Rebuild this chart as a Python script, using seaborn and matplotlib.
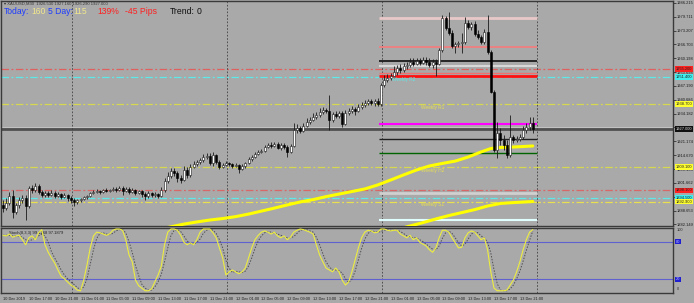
import numpy as np
import pandas as pd
import matplotlib
matplotlib.use("Agg")
import matplotlib.pyplot as plt
import matplotlib.transforms as mtransforms
import seaborn as sns

# ---------------- data ----------------
opens = [1891.3,1889.8,1892.2,1895.5,1888.0,1891.3,1893.6,1894.5,1890.8,1899.2,
 1898.3,1900.2,1897.4,1896.0,1896.9,1896.0,1896.9,1895.5,1896.4,1895.0,
 1896.0,1894.5,1893.6,1892.7,1893.6,1894.1,1895.0,1895.5,1896.9,1897.4,
 1897.8,1897.4,1898.3,1897.8,1898.3,1898.8,1898.3,1899.2,1897.8,1898.8,
 1897.4,1898.3,1896.9,1897.8,1896.4,1895.5,1896.9,1896.0,1896.4,1895.5,
 1898.3,1902.5,1904.9,1907.2,1906.3,1903.9,1903.0,1907.7,1905.4,1909.1,
 1910.5,1911.5,1912.4,1913.8,1914.3,1911.0,1914.8,1911.5,1909.1,1910.1,
 1911.0,1910.5,1909.6,1910.1,1908.2,1909.6,1911.0,1912.9,1913.8,1915.2,
 1916.2,1916.6,1918.5,1919.5,1919.0,1919.9,1918.0,1919.5,1918.5,1916.2,
 1919.0,1926.5,1927.4,1926.0,1928.4,1930.3,1931.2,1932.6,1933.6,1935.0,
 1935.9,1935.4,1931.2,1934.0,1933.1,1934.5,1929.3,1934.5,1935.4,1936.4,
 1935.4,1937.3,1938.3,1939.2,1940.1,1939.2,1940.1,1938.7,1947.7,1950.0,
 1950.9,1951.9,1953.8,1955.6,1954.7,1956.6,1957.1,1958.5,1957.5,1958.9,
 1958.0,1959.4,1958.5,1957.1,1958.5,1957.5,1964.1,1979.1,1974.4,1972.1,
 1966.0,1966.9,1967.4,1967.9,1976.8,1974.9,1976.3,1971.6,1970.2,1967.9,
 1972.6,1963.2,1944.4,1917.1,1925.1,1921.8,1919.5,1914.8,1923.2,1921.8,
 1922.3,1923.2,1926.5,1927.9,1929.8]
closes = [1889.8,1892.2,1895.5,1888.0,1891.3,1893.6,1894.5,1890.8,1899.2,1898.3,
 1900.2,1897.4,1896.0,1896.9,1896.0,1896.9,1895.5,1896.4,1895.0,1896.0,
 1894.5,1893.6,1892.7,1893.6,1894.1,1895.0,1895.5,1896.9,1897.4,1897.8,
 1897.4,1898.3,1897.8,1898.3,1898.8,1898.3,1899.2,1897.8,1898.8,1897.4,
 1898.3,1896.9,1897.8,1896.4,1895.5,1896.9,1896.0,1896.4,1895.5,1898.3,
 1902.5,1904.9,1907.2,1906.3,1903.9,1903.0,1907.7,1905.4,1909.1,1910.5,
 1911.5,1912.4,1913.8,1914.3,1911.0,1914.8,1911.5,1909.1,1910.1,1911.0,
 1910.5,1909.6,1910.1,1908.2,1909.6,1911.0,1912.9,1913.8,1915.2,1916.2,
 1916.6,1918.5,1919.5,1919.0,1919.9,1918.0,1919.5,1918.5,1916.2,1919.0,
 1926.5,1927.4,1926.0,1928.4,1930.3,1931.2,1932.6,1933.6,1935.0,1935.9,
 1935.4,1931.2,1934.0,1933.1,1934.5,1929.3,1934.5,1935.4,1936.4,1935.4,
 1937.3,1938.3,1939.2,1940.1,1939.2,1940.1,1938.7,1947.7,1950.0,1950.9,
 1951.9,1953.8,1955.6,1954.7,1956.6,1957.1,1958.5,1957.5,1958.9,1958.0,
 1959.4,1958.5,1957.1,1958.5,1957.5,1964.1,1979.1,1974.4,1972.1,1966.0,
 1966.9,1967.4,1967.9,1976.8,1974.9,1976.3,1971.6,1970.2,1967.9,1972.6,
 1963.2,1944.4,1917.1,1925.1,1921.8,1919.5,1914.8,1923.2,1921.8,1922.3,
 1923.2,1926.5,1927.9,1929.8,1927.0]
highs = [1893.6,1894.5,1897.4,1898.3,1892.2,1895.0,1896.0,1896.0,1900.2,1900.7,
 1901.6,1901.1,1898.3,1897.8,1897.8,1898.3,1897.8,1897.4,1896.9,1896.9,
 1896.4,1895.5,1894.5,1894.1,1894.5,1895.5,1896.0,1897.4,1898.3,1898.8,
 1898.3,1898.8,1899.2,1898.8,1899.7,1899.7,1900.2,1900.2,1899.7,1899.7,
 1899.2,1898.8,1898.3,1898.3,1897.4,1897.8,1897.4,1897.4,1896.9,1899.7,
 1903.9,1906.8,1908.6,1908.6,1907.2,1905.4,1909.6,1909.1,1910.5,1911.9,
 1912.4,1913.3,1915.2,1915.7,1915.7,1916.2,1915.2,1912.4,1911.0,1911.9,
 1911.5,1911.0,1911.0,1910.5,1910.5,1911.5,1913.8,1914.8,1916.2,1917.1,
 1917.6,1919.5,1920.4,1920.9,1920.9,1920.9,1920.4,1920.4,1919.5,1919.9,
 1929.8,1929.3,1928.4,1929.8,1932.1,1932.6,1934.5,1935.0,1936.8,1937.3,
 1936.8,1943.0,1935.0,1935.4,1935.4,1935.4,1935.9,1936.8,1937.8,1937.3,
 1938.7,1939.7,1940.6,1941.1,1941.1,1941.1,1941.5,1948.6,1952.4,1952.8,
 1953.3,1956.6,1957.1,1957.5,1958.0,1958.5,1960.3,1960.3,1960.3,1960.3,
 1960.8,1960.8,1960.3,1959.9,1959.9,1965.0,1980.6,1980.1,1982.0,1973.5,
 1967.9,1968.3,1972.1,1979.6,1978.2,1977.3,1977.7,1973.5,1971.2,1974.0,
 1980.6,1964.1,1945.3,1930.3,1927.4,1924.2,1921.8,1933.6,1924.2,1923.7,
 1924.6,1928.4,1929.8,1932.6,1932.6]
lows = [1888.0,1888.9,1891.3,1885.1,1887.0,1889.8,1892.2,1884.2,1889.8,1896.9,
 1897.4,1896.4,1895.0,1895.0,1895.0,1895.5,1894.5,1895.0,1894.1,1894.5,
 1893.1,1892.2,1890.8,1891.7,1892.7,1893.6,1894.1,1895.0,1896.4,1896.9,
 1896.4,1896.9,1897.4,1897.4,1897.8,1897.4,1897.8,1896.0,1897.4,1896.4,
 1896.9,1896.0,1896.4,1895.0,1893.6,1894.5,1895.0,1895.0,1894.5,1895.0,
 1897.4,1901.6,1903.9,1904.9,1902.1,1901.6,1902.5,1903.9,1904.4,1908.6,
 1909.6,1910.5,1911.5,1912.9,1910.1,1909.6,1910.5,1908.2,1908.6,1909.6,
 1909.6,1908.6,1909.1,1906.3,1907.7,1908.6,1910.5,1911.9,1913.3,1914.8,
 1915.7,1916.2,1918.0,1918.0,1918.5,1917.6,1917.1,1917.6,1913.8,1915.7,
 1918.5,1925.1,1925.1,1925.6,1927.9,1929.3,1930.7,1931.7,1932.6,1934.0,
 1934.5,1926.5,1930.3,1932.1,1932.1,1927.9,1928.9,1933.6,1934.5,1933.6,
 1935.0,1936.4,1937.3,1938.3,1938.3,1937.8,1937.8,1937.8,1946.7,1949.1,
 1950.0,1950.9,1952.4,1953.3,1953.8,1955.2,1956.1,1956.6,1957.1,1957.1,
 1957.5,1957.1,1956.1,1955.6,1951.9,1957.1,1963.2,1973.5,1971.2,1965.0,
 1962.7,1965.5,1962.7,1966.9,1974.0,1973.5,1970.7,1969.3,1966.9,1966.9,
 1962.2,1943.9,1916.2,1913.3,1919.5,1917.1,1913.3,1913.8,1920.4,1920.9,
 1921.3,1922.3,1925.1,1926.5,1925.1]

stoch_main = [90,89,92,87,89,90,83,75,86,89,83,94,99,75,63,54,46,35,25,21,
 16,11,8,3,2,19,43,70,89,95,94,92,90,92,98,100,100,98,83,59,
 48,19,10,6,2,2,5,16,27,41,75,95,100,100,98,90,79,75,78,75,
 83,95,100,100,100,94,86,70,54,27,32,35,32,29,32,38,54,70,83,90,
 95,97,95,92,95,89,86,89,83,87,95,98,100,99,97,95,92,75,59,48,
 38,35,32,38,32,19,11,16,32,51,70,86,95,98,97,94,95,100,100,98,
 97,98,98,92,89,86,90,83,86,79,76,73,67,63,70,86,98,98,95,86,
 78,70,71,86,94,97,95,89,83,86,67,32,6,2,2,2,3,11,19,32,
 48,67,83,95,99]
stoch_signal = [90,90,90,89,89,89,87,83,81,83,86,89,92,89,79,64,54,45,35,27,
 21,16,12,7,4,8,21,44,67,85,93,94,92,91,93,97,99,99,94,80,
 63,42,26,12,6,3,3,8,16,28,48,70,90,98,99,96,89,81,77,76,
 79,84,93,98,100,98,93,83,70,50,38,31,33,32,31,33,41,54,69,81,
 89,94,96,95,94,92,90,88,86,86,88,93,98,99,99,97,95,87,75,61,
 48,40,35,35,34,30,21,15,20,33,51,69,84,93,97,96,95,96,98,99,
 98,98,98,96,93,89,88,86,86,83,80,76,72,68,67,73,85,94,97,93,
 86,78,73,76,84,92,95,94,89,86,79,62,35,13,3,2,2,5,11,21,
 33,49,66,82,97]

ma_slow_bars = [50,56,60,64,68,72,76,80,84,88,92,96,100,104,108,112,116,120,124,128,132,136,140,144,148,151,154,158,164]
ma_slow = [1880.4,1882.3,1883.3,1884.2,1884.9,1885.8,1887.0,1888.4,1889.8,1891.3,1892.7,1893.8,1895.2,
           1896.4,1897.6,1898.8,1900.7,1903.0,1905.4,1907.7,1909.6,1910.8,1911.9,1913.8,1916.2,1917.8,
           1918.3,1918.5,1919.0]
ma_fast_bars = [120,126,130,134,138,142,146,150,154,158,164]
ma_fast = [1879.0,1881.4,1883.0,1884.7,1886.3,1887.7,1889.1,1890.8,1892.0,1892.4,1892.9]

full_levels = [1955.2, 1951.4, 1938.7, 1909.1, 1898.1, 1894.5, 1892.9]
weekly_levels = [1979.1, 1965.5, 1958.9, 1956.6, 1953.3, 1951.9, 1929.3, 1922.3, 1915.7, 1896.7, 1884.2]
weekly_labels = ["Weekly R2", "Weekly R1", "Weekly H2", "Weekly S1"]
weekly_label_prices = [1950.2, 1937.0, 1907.6, 1891.4]

price_ticks = [1986.215,1979.711,1973.207,1966.703,1960.198,1953.694,1947.190,1940.686,
               1934.182,1927.678,1921.174,1914.670,1908.166,1901.662,1895.158,1888.653,1882.149]
time_tick_bars = [0,8,16,24,32,40,48,56,64,72,80,88,96,104,112,120,128,136,144,152,160]
time_tick_labels = ["10 Dec 2019","10 Dec 17:00","10 Dec 21:00","11 Dec 01:00","11 Dec 05:00",
                    "11 Dec 09:00","11 Dec 13:00","11 Dec 17:00","11 Dec 21:00","12 Dec 01:00",
                    "12 Dec 05:00","12 Dec 09:00","12 Dec 13:00","12 Dec 17:00","12 Dec 21:00",
                    "13 Dec 01:00","13 Dec 05:00","13 Dec 09:00","13 Dec 13:00","13 Dec 17:00",
                    "13 Dec 21:00"]
day_breaks = [21.4, 69.4, 117.4, 165.4]
stoch_levels = [80, 20]

# ---------------- styling ----------------
sns.set_style("white")
plt.rcParams["font.family"] = ["Liberation Sans", "DejaVu Sans"]
BG = "#A9A9A9"
FRAME = "#3A3A3A"

fig = plt.figure(figsize=(6.94, 3.03), dpi=100)
fig.patch.set_facecolor(BG)
W, H = 694.0, 303.0
ax = fig.add_axes([1 / W, 1 - 226 / H, 672 / W, 225 / H])
ax2 = fig.add_axes([1 / W, 1 - 293 / H, 672 / W, 65 / H])
for a in (ax, ax2):
    a.set_facecolor(BG)
    for s in a.spines.values():
        s.set_color(FRAME)
        s.set_linewidth(1.0)
    a.set_xlim(-0.62, 207.4)

ax.set_ylim(1881.4, 1987.1)
ax2.set_ylim(-1.6, 101.6)

df = pd.DataFrame({"bar": np.arange(len(closes)), "open": opens, "high": highs,
                   "low": lows, "close": closes})

# ---- full-width dash-dot levels
full_colors = ["#E06060", "#5FE8E8", "#D8D850", "#D8D850", "#D86868", "#5FE8E8", "#E8E050"]
for v, c in zip(full_levels, full_colors):
    ax.axhline(v, color=c, lw=0.9, ls=(0, (6, 2, 1.5, 2)), zorder=1)

# ---- bid / ask lines
ax.axhline(closes[-1] + 0.9, color="#C8C8C8", lw=0.6, zorder=1)
ax.axhline(closes[-1], color="#505050", lw=2.0, zorder=1)

# ---- weekly pivot segments
w_colors = ["#E8C8C8", "#F08080", "#101010", "#D8D8D8", "#F07070", "#FF1010",
            "#FF00FF", "#202020", "#006400", "#D0D0D0", "#E0FFFF"]
w_widths = [2.0, 1.3, 1.2, 1.5, 1.0, 2.0, 1.5, 1.0, 1.0, 2.0, 1.5]
for v, c, lw in zip(weekly_levels, w_colors, w_widths):
    ax.hlines(v, 116.3, 165.4, colors=c, lw=lw, zorder=2)

# ---- day separators
for b in day_breaks:
    ax.axvline(b, color="#404040", lw=0.6, ls=(0, (2, 2)), zorder=1)
    ax2.axvline(b, color="#404040", lw=0.6, ls=(0, (2, 2)), zorder=1)

# ---- moving averages (seaborn)
sns.lineplot(x=ma_slow_bars, y=ma_slow, ax=ax, color="#FFFF00", lw=2.2, zorder=3)
sns.lineplot(x=ma_fast_bars, y=ma_fast, ax=ax, color="#FFFF00", lw=2.2, zorder=3)

# ---- candles
up = df["close"] >= df["open"]
ax.vlines(df["bar"], df["low"], df["high"], color="#1A1A1A", lw=0.6, zorder=4)
ax.bar(df["bar"][up], (df["close"] - df["open"])[up], bottom=df["open"][up], width=0.62,
       color="white", edgecolor="#1A1A1A", lw=0.4, zorder=5)
ax.bar(df["bar"][~up], (df["close"] - df["open"])[~up], bottom=df["open"][~up], width=0.62,
       color="black", edgecolor="black", lw=0.4, zorder=5)

# ---- weekly labels
wl_colors = ["#5FE8E8", "#E8E050", "#E8E050", "#E8E050"]
wl_bars = [120.5, 129.5, 129.5, 129.5]
for t, p, c, b in zip(weekly_labels, weekly_label_prices, wl_colors, wl_bars):
    ax.text(b, p, t, color=c, fontsize=3.4, va="center", ha="left", zorder=6)

# ---- price axis
ax.yaxis.tick_right()
ax.set_yticks(price_ticks)
ax.set_yticklabels([f"{v:.3f}" for v in price_ticks])
ax.tick_params(axis="y", labelsize=2.9, length=2, width=0.5, pad=0.8, colors="#1A1A1A")
ax.set_xticks([])
ax.set_ylabel("")
ax.set_xlabel("")

# coloured price tags
tag_levels = full_levels + [closes[-1]]
tag_colors = ["#FF2020", "#40F0F0", "#FFFF30", "#FFFF30", "#FF2020", "#40F0F0", "#FFFF30", "#101010"]
tag_text = ["#202020", "#202020", "#202020", "#202020", "#202020", "#202020", "#202020", "#E0E0E0"]
tr = mtransforms.blended_transform_factory(ax.transAxes, ax.transData)
for v, bc, tc in zip(tag_levels, tag_colors, tag_text):
    ax.text(1.0035, v, f"{v:.3f}", transform=tr, fontsize=2.9, color=tc, va="center", ha="left",
            bbox=dict(boxstyle="square,pad=0.2", fc=bc, ec="none"), zorder=7, clip_on=False)

# ---- stochastic (seaborn)
for lv in stoch_levels:
    ax2.axhline(lv, color="#6060D0", lw=0.8, zorder=1)
sns.lineplot(x=np.arange(len(stoch_signal)), y=stoch_signal, ax=ax2, color="#505050", lw=0.7,
             linestyle=(0, (1.5, 1.5)), zorder=3)
sns.lineplot(x=np.arange(len(stoch_main)), y=stoch_main, ax=ax2, color="#EDED40", lw=0.8, zorder=4)
ax2.set_yticks([])
ax2.set_ylabel("")
ax2.set_xticks(time_tick_bars)
ax2.set_xticklabels(time_tick_labels, ha="left")
ax2.tick_params(axis="x", labelsize=2.75, length=2, width=0.5, pad=1.2, colors="#1A1A1A")
tr2 = mtransforms.blended_transform_factory(ax2.transAxes, ax2.transData)
ax2.text(1.006, 98, "100", transform=tr2, fontsize=2.9, color="#303030", va="center", clip_on=False)
for lv in stoch_levels:
    ax2.text(1.004, lv, f"{lv}", transform=tr2, fontsize=2.9, color="#C0C0FF", va="center",
             bbox=dict(boxstyle="square,pad=0.2", fc="#2020D0", ec="none"), clip_on=False)
ax2.text(1.006, 4, "0", transform=tr2, fontsize=2.9, color="#303030", va="center", clip_on=False)
ax2.text(2, 97, f"Stoch(8,3,3) {99.1268:.4f} {97.1879:.4f}", fontsize=3.0, color="#202020", va="top")

# ---- header texts
fig.text(4 / W, 1 - 4 / H, "\u25be XAUUSD,M30  1926.530 1927.160 1926.290 1927.000", fontsize=3.0,
         color="#303030", va="center")
items = [(4, "Today:", "#1E3CFF"), (31, "160", "#F0E68C"), (48, "5 Day:", "#1E3CFF"),
         (73, "115", "#F0E68C"), (97, "139%", "#FF2020"), (125, "-45 Pips", "#FF2020"),
         (170, "Trend:", "#101010"), (197, "0", "#101010")]
for x, t, c in items:
    fig.text(x / W, 1 - 11 / H, t, fontsize=6.2, color=c, va="center", ha="left")

fig.savefig("out.png", dpi=100, facecolor=BG)
